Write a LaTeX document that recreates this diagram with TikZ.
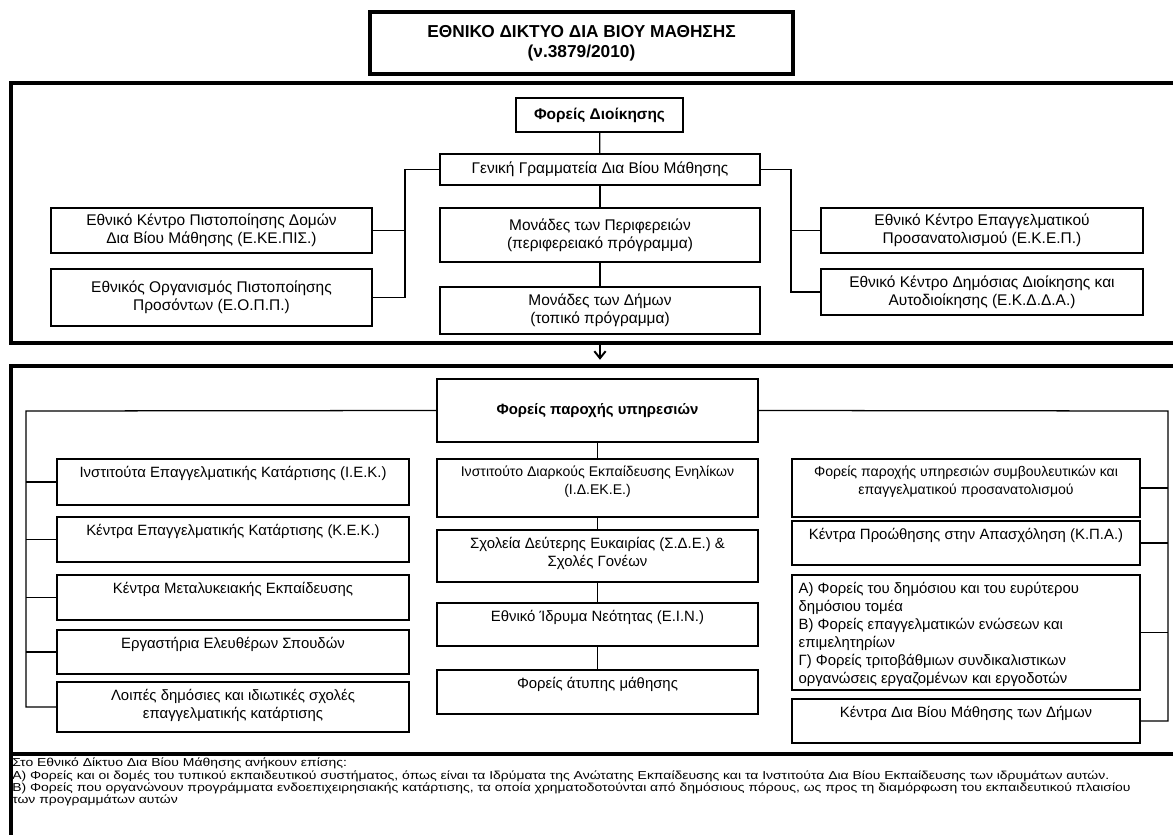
\documentclass[tikz,border=0pt]{standalone}
\usepackage{fontspec}
\setmainfont{Liberation Sans}
\newfontfamily\notefont{Liberation Sans}[FakeStretch=1.21]
\usetikzlibrary{arrows.meta,positioning}

\begin{document}
\begin{tikzpicture}[x=0.025cm,y=-0.025cm,
  every node/.style={font=\fontsize{10.6}{12.8}\selectfont},
  big/.style={font=\fontsize{11}{12.8}\selectfont},
  small/.style={font=\fontsize{10}{12.8}\selectfont},
  box/.style={draw, line width=0.9pt, inner sep=0pt, align=center},
  frame/.style={draw, line width=3pt, inner sep=0pt, align=center},
  wh/.style 2 args={minimum width=#1*0.025cm, minimum height=#2*0.025cm},
  toptxt/.style={anchor=north, yshift=-5.5pt, inner sep=0pt, align=center},
  tl/.style={label={[toptxt]north:{#1}}},
  link/.style={line width=0.9pt},
  arr/.style={line width=1.4pt, -{Straight Barb[length=5pt,width=8pt]}}]
\useasboundingbox (0,0) rectangle (1173,835);

% frames
\node[frame, line width=2.8pt, wh={423}{62}, font=\bfseries\fontsize{12.3}{14.2}\selectfont] (title) at (581.5,43) {ΕΘΝΙΚΟ ΔΙΚΤΥΟ ΔΙΑ ΒΙΟΥ ΜΑΘΗΣΗΣ\\(ν.3879/2010)};
\node[frame, wh={1167}{260}, anchor=north west] (adm) at (9,81) {};
\node[frame, wh={1167}{388}, anchor=north west] (srv) at (9,364) {};
\node[frame, wh={1167}{100}, anchor=north west] (note) at (9,752) {};

% administration
\node[box, wh={167}{34}, font=\bfseries\fontsize{11}{12.8}\selectfont] (fd) at (599.5,115) {Φορείς Διοίκησης};
\node[box, big, wh={320}{31}] (gg) at (600,169.5) {Γενική Γραμματεία Δια Βίου Μάθησης};
\node[box, big, wh={320}{54}] (mp) at (600,235) {Μονάδες των Περιφερειών\\(περιφερειακό πρόγραμμα)};
\node[box, big, wh={320}{47}] (md) at (600,310.5) {Μονάδες των Δήμων\\(τοπικό πρόγραμμα)};
\node[box, big, wh={321}{45}] (ekepis) at (211.5,230.5) {Εθνικό Κέντρο Πιστοποίησης Δομών\\Δια Βίου Μάθησης (Ε.ΚΕ.ΠΙΣ.)};
\node[box, big, wh={321}{57}] (eopp) at (211.5,297.5) {Εθνικός Οργανισμός Πιστοποίησης\\Προσόντων (Ε.Ο.Π.Π.)};
\node[box, big, wh={322}{45}] (ekep) at (982,230.5) {Εθνικό Κέντρο Επαγγελματικού\\Προσανατολισμού (Ε.Κ.Ε.Π.)};
\node[box, big, wh={322}{46}] (ekdda) at (982,292) {Εθνικό Κέντρο Δημόσιας Διοίκησης και\\Αυτοδιοίκησης (Ε.Κ.Δ.Δ.Α.)};
\coordinate (lj) at (405,169.5);
\coordinate (rj) at (791,169.5);

\draw[link] (fd) -- (gg);
\draw[link] (gg) -- (mp);
\draw[link] (mp) -- (md);
\draw[link] (gg.west) -- (lj) |- (eopp.east);
\draw[link] (lj |- ekepis.east) -- (ekepis.east);
\draw[link] (gg.east) -- (rj) |- (ekdda.west);
\draw[link] (rj |- ekep.west) -- (ekep.west);

\draw[arr] (gg |- adm.south) -- ([yshift=3pt]gg |- srv.north);

% service providers
\node[box, wh={321}{63}, font=\bfseries\fontsize{10.6}{12.8}\selectfont] (fp) at (597.5,410.5) {Φορείς παροχής υπηρεσιών};

\node[box, wh={352}{46}, tl={Ινστιτούτα Επαγγελματικής Κατάρτισης (Ι.Ε.Κ.)}] (iek) at (233,482) {};
\node[box, wh={352}{45}, tl={Κέντρα Επαγγελματικής Κατάρτισης (Κ.Ε.Κ.)}] (kek) at (233,539.5) {};
\node[box, wh={352}{45}, tl={Κέντρα Μεταλυκειακής Εκπαίδευσης}] (kme) at (233,597.5) {};
\node[box, wh={352}{44}, tl={Εργαστήρια Ελευθέρων Σπουδών}] (ees) at (233,652) {};
\node[box, wh={352}{50}, tl={Λοιπές δημόσιες και ιδιωτικές σχολές\\επαγγελματικής κατάρτισης}] (lds) at (233,707) {};

\node[box, wh={321}{58}, label={[toptxt, small]north:{Ινστιτούτο Διαρκούς Εκπαίδευσης Ενηλίκων\\(Ι.Δ.ΕΚ.Ε.)}}] (idek) at (597.5,488) {};
\node[box, wh={321}{52}, tl={Σχολεία Δεύτερης Ευκαιρίας (Σ.Δ.Ε.) \&\\Σχολές Γονέων}] (sde) at (597.5,556) {};
\node[box, wh={321}{43}, tl={Εθνικό Ίδρυμα Νεότητας (Ε.Ι.Ν.)}] (ein) at (597.5,624.5) {};
\node[box, wh={321}{44}, tl={Φορείς άτυπης μάθησης}] (atm) at (597.5,692) {};

\node[box, wh={348}{58}, label={[toptxt, small]north:{Φορείς παροχής υπηρεσιών συμβουλευτικών και\\επαγγελματικού προσανατολισμού}}] (fsp) at (966,488) {};
\node[box, wh={348}{44}, tl={Κέντρα Προώθησης στην Απασχόληση (Κ.Π.Α.)}] (kpa) at (966,543) {};
\node[box, wh={348}{115}, label={[toptxt, anchor=north west, align=left, xshift=5pt]north west:{Α) Φορείς του δημόσιου και του ευρύτερου\\δημόσιου τομέα\\Β) Φορείς επαγγελματικών ενώσεων και\\επιμελητηρίων\\Γ) Φορείς τριτοβάθμιων συνδικαλιστικων\\οργανώσεις εργαζομένων και εργοδοτών}}] (abg) at (966,632.5) {};
\node[box, wh={348}{44}, tl={Κέντρα Δια Βίου Μάθησης των Δήμων}] (kdb) at (966,721) {};
\coordinate (sl) at (26,411);
\coordinate (sr) at (1168,411);

\draw[link] (fp) -- (idek);
\draw[link] (idek) -- (sde);
\draw[link] (sde) -- (ein);
\draw[link] (ein) -- (atm);
\draw[link] (fp.west) -- (sl) |- (lds.west);
\foreach \n in {iek,kek,kme,ees}
  \draw[link] (sl |- \n.west) -- (\n.west);
\draw[link] (fp.east) -- (sr) |- (kdb.east);
\foreach \n in {fsp,kpa,abg}
  \draw[link] (sr |- \n.east) -- (\n.east);

% note
\node[anchor=north west, align=left, inner sep=0pt, font=\notefont\fontsize{8.2}{8.6}\selectfont] (txt) at (12,758) {Στο Εθνικό Δίκτυο Δια Βίου Μάθησης ανήκουν επίσης:\\
Α) Φορείς και οι δομές του τυπικού εκπαιδευτικού συστήματος, όπως είναι τα Ιδρύματα της Ανώτατης Εκπαίδευσης και τα Ινστιτούτα Δια Βίου Εκπαίδευσης των ιδρυμάτων αυτών.\\
Β) Φορείς που οργανώνουν προγράμματα ενδοεπιχειρησιακής κατάρτισης, τα οποία χρηματοδοτούνται από δημόσιους πόρους, ως προς τη διαμόρφωση του εκπαιδευτικού πλαισίου\\
των προγραμμάτων αυτών};
\end{tikzpicture}
\end{document}
